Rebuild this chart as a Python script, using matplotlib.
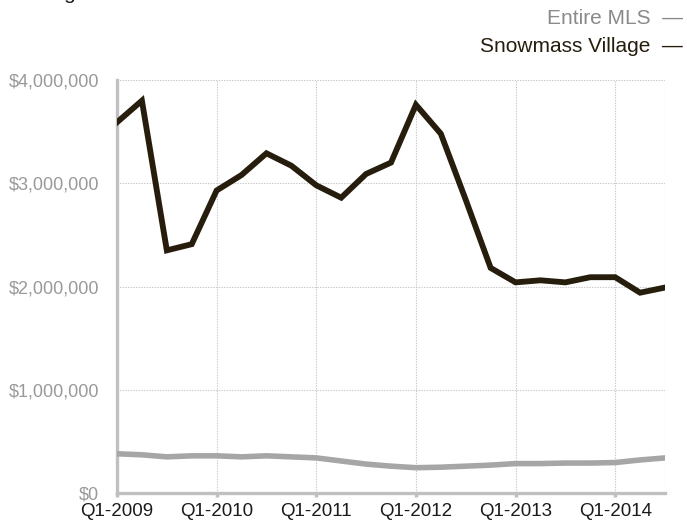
import numpy as np
import matplotlib.pyplot as plt

plt.rcParams['font.family'] = ['Liberation Sans', 'DejaVu Sans']

# Quarterly data, Q1-2009 .. Q3-2014
quarters = np.arange(23)
snowmass = [3.59, 3.80, 2.35, 2.41, 2.93, 3.08, 3.29, 3.17, 2.98, 2.86, 3.09, 3.20,
            3.76, 3.48, 2.84, 2.18, 2.04, 2.06, 2.04, 2.09, 2.09, 1.94, 1.99]
entire_mls = [0.38, 0.37, 0.35, 0.36, 0.36, 0.35, 0.36, 0.35, 0.34, 0.31, 0.28, 0.26,
              0.245, 0.25, 0.26, 0.27, 0.285, 0.285, 0.29, 0.29, 0.295, 0.32, 0.34]
snowmass = np.array(snowmass) * 1e6
entire_mls = np.array(entire_mls) * 1e6

xtick_pos = [0, 4, 8, 12, 16, 20]
xtick_labels = ['Q1-2009', 'Q1-2010', 'Q1-2011', 'Q1-2012', 'Q1-2013', 'Q1-2014']
ytick_pos = [0, 1e6, 2e6, 3e6, 4e6]
ytick_labels = ['$0', '$1,000,000', '$2,000,000', '$3,000,000', '$4,000,000']

fig = plt.figure(figsize=(6.87, 5.25), dpi=100)
ax = fig.add_axes([117/687, 1 - 493/525, 548/687, 413/525])

# grid
for x in xtick_pos + [22]:
    ax.axvline(x, color='#c8c8c8', lw=0.8, ls=(0, (1.2, 1.2)), zorder=1)
for y in ytick_pos[1:]:
    ax.axhline(y, color='#c8c8c8', lw=0.8, ls=(0, (1.2, 1.2)), zorder=1)

ax.plot(quarters, entire_mls, color='#a6a6a6', lw=4.0, solid_joinstyle='round', zorder=3)
ax.plot(quarters, snowmass, color='#261d0d', lw=4.2, solid_joinstyle='miter', zorder=4)

ax.set_xlim(0, 22)
ax.set_ylim(0, 4e6)
ax.set_xticks(xtick_pos)
ax.set_xticklabels(xtick_labels, fontsize=13.5, color='#1a1a1a')
ax.set_yticks(ytick_pos)
ax.set_yticklabels(ytick_labels, fontsize=13, color='#999999')
ax.tick_params(axis='x', length=3, width=2.5, color='#c0c0c0', pad=4)
ax.tick_params(axis='y', length=0, pad=13)

for s in ['top', 'right']:
    ax.spines[s].set_visible(False)
for s in ['left', 'bottom']:
    ax.spines[s].set_color('#c0c0c0')
    ax.spines[s].set_linewidth(2.4)
ax.spines['bottom'].set_zorder(2)

# legend as right-aligned text
fig.text(683/687, 1 - 18/525, 'Entire MLS  \u2014', ha='right', va='center',
         fontsize=15, color='#8a8a8a')
fig.text(683/687, 1 - 46/525, 'Snowmass Village  \u2014', ha='right', va='center',
         fontsize=15, color='#261d0d')

# title sits above the top edge; only descenders show, as in the source
fig.text(10/687, 1 + 1/525, 'Average Sales Price', ha='left', va='baseline',
         fontsize=15, color='#1a1a1a')

fig.savefig('out.png', dpi=100)
